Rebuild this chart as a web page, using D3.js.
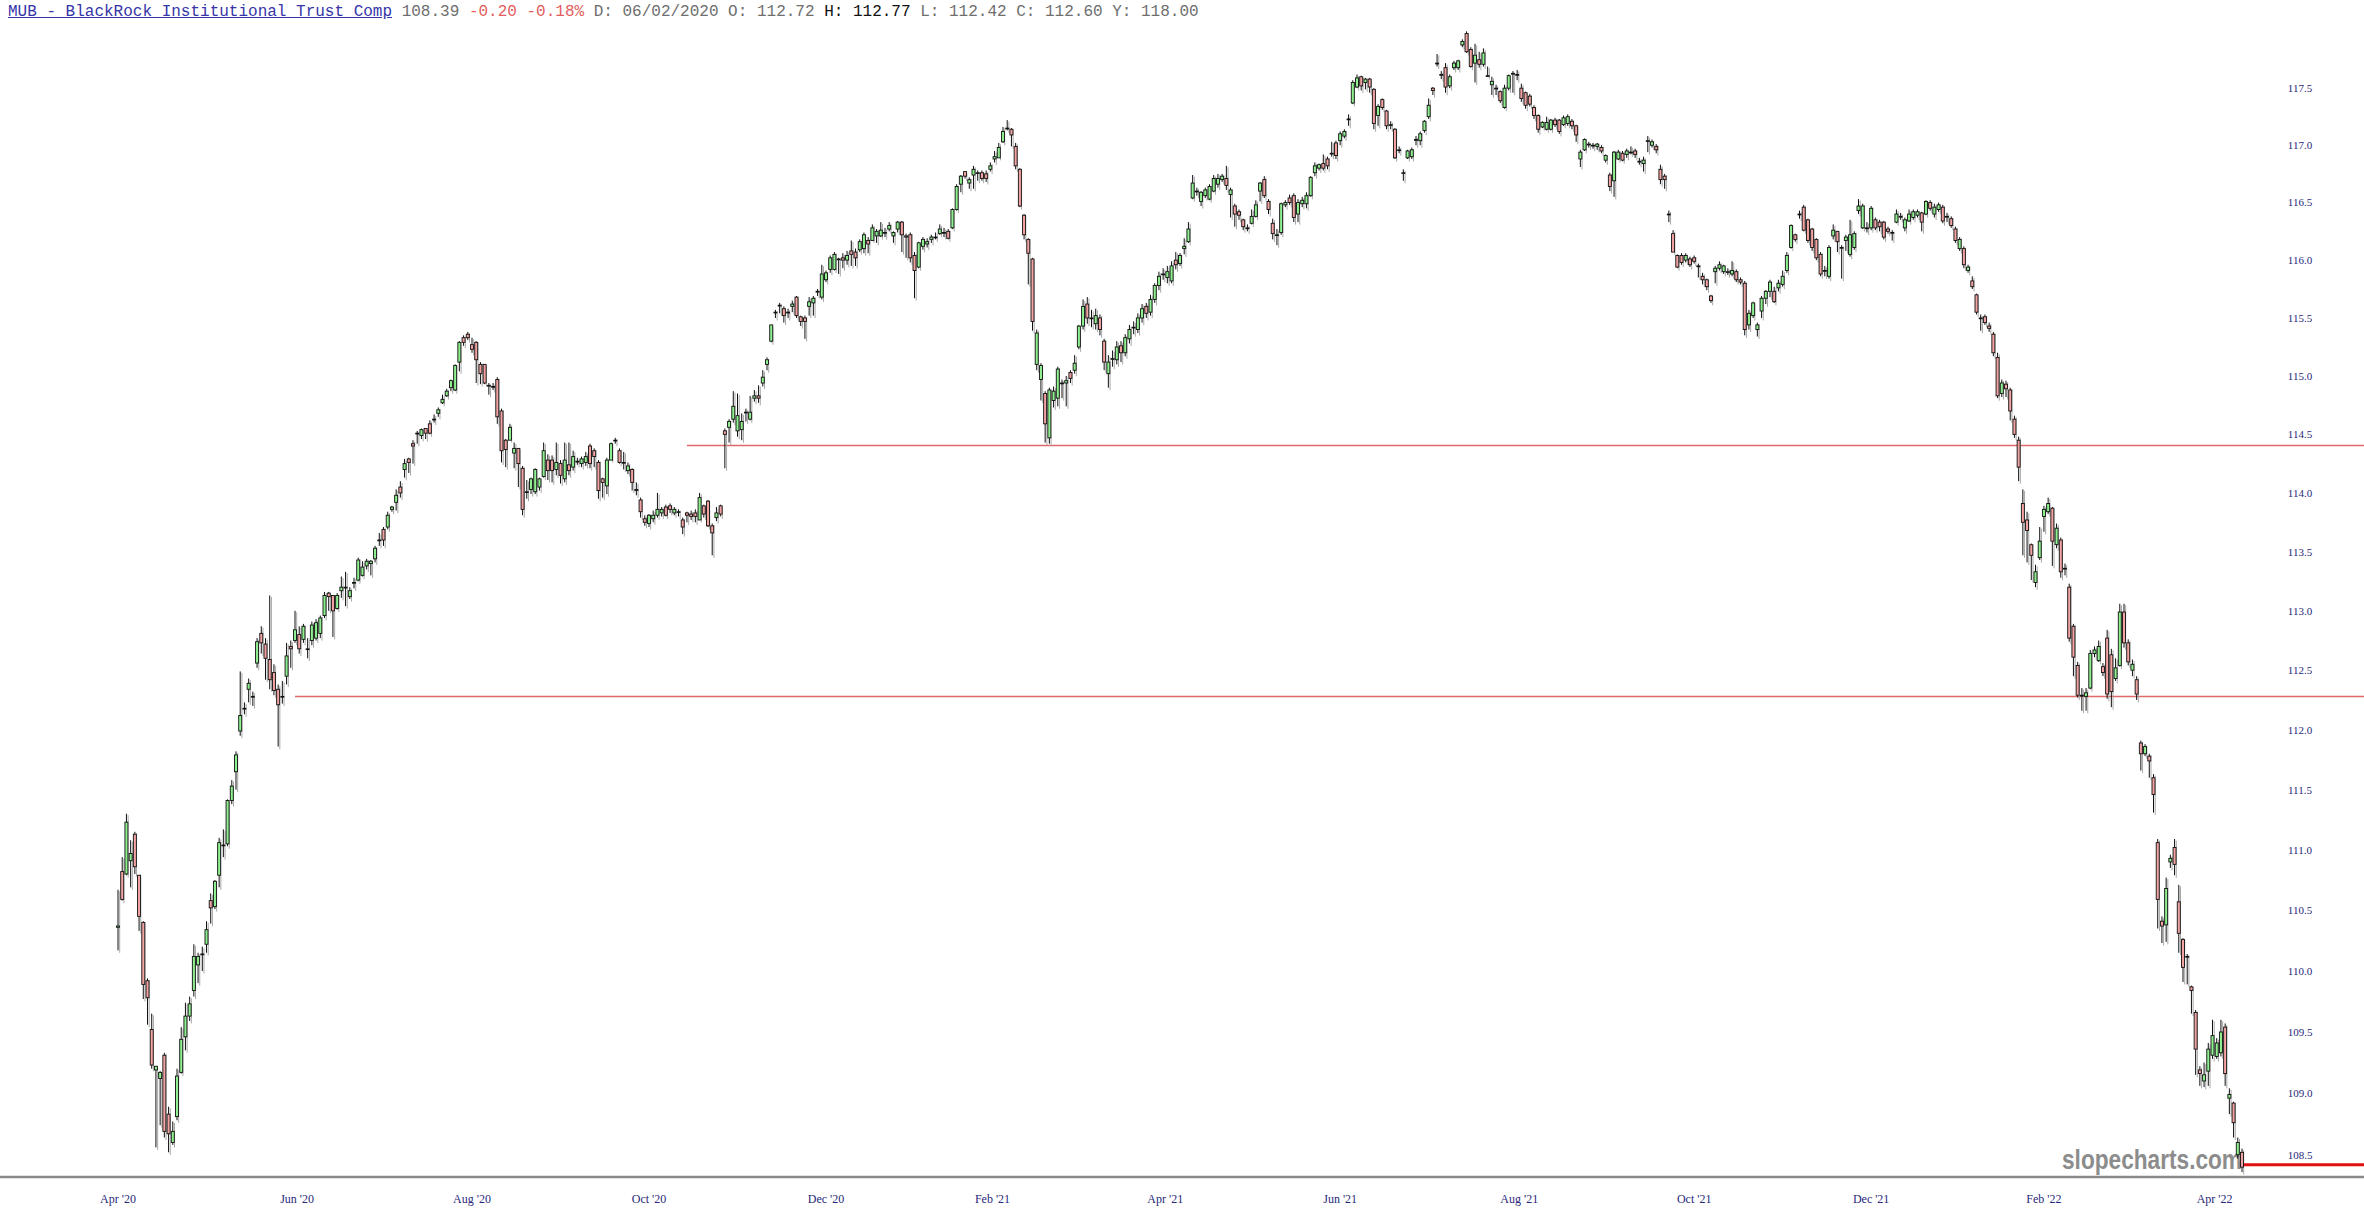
<!DOCTYPE html>
<html><head><meta charset="utf-8">
<script src="https://cdn.jsdelivr.net/npm/d3@7"></script>
<style>
html,body{margin:0;padding:0;background:#fff;overflow:hidden;}
#hdr{position:absolute;left:8px;top:1px;font-family:"Liberation Mono",monospace;font-size:16px;line-height:22px;white-space:pre;color:#6e6e6e;}
#hdr .t{color:#3535a8;text-decoration:underline;}
#hdr .r{color:#e35d5d;}
#hdr .k{color:#111;}
svg{position:absolute;left:0;top:0;}
</style>
</head><body>
<div id="hdr"></div>
<svg id="chart" width="2364" height="1218"></svg>
<script>
// ---- DATA: daily candles [open, high, low, close] ----
const ohlcPart1 = [
[110.36,110.67,110.17,110.37],[110.82,110.94,110.58,110.59],[110.80,111.30,110.79,111.23],[110.91,111.08,110.69,110.97],[111.13,111.15,110.80,110.86],
[110.79,110.79,110.33,110.45],[110.40,110.41,109.77,109.89],[109.92,109.94,109.56,109.78],[109.52,109.65,109.20,109.23],[109.19,109.22,108.56,109.22],
[109.12,109.18,108.74,109.17],[109.31,109.33,108.64,108.69],[108.83,108.89,108.52,108.67],[108.60,108.77,108.58,108.69],[108.81,109.20,108.78,109.14],
[109.17,109.54,109.16,109.44],[109.46,109.74,109.35,109.63],[109.63,109.79,109.59,109.73],[109.84,110.22,109.79,110.12],[110.05,110.15,109.90,110.12],
[110.14,110.20,110.00,110.14],[110.22,110.41,110.15,110.34],[110.58,110.64,110.39,110.52],[110.53,110.75,110.51,110.74],[110.79,111.10,110.69,111.06],
[111.04,111.17,110.94,111.04],[111.05,111.42,111.03,111.41],[111.41,111.58,111.38,111.53],[111.65,111.82,111.50,111.79],[111.99,112.49,111.95,112.12],
[112.18,112.23,112.13,112.18],[112.34,112.43,112.23,112.39],[112.28,112.32,112.20,112.28],[112.56,112.77,112.52,112.74],[112.81,112.87,112.64,112.73],
[112.72,112.77,112.42,112.60],[112.59,113.13,112.34,112.42],[112.48,112.55,112.29,112.33],[112.34,112.38,111.86,112.21],[112.28,112.41,112.22,112.28],
[112.45,112.73,112.38,112.62],[112.70,112.75,112.52,112.68],[112.75,113.00,112.73,112.84],[112.80,112.87,112.64,112.68],[112.76,112.89,112.73,112.87],
[112.68,112.77,112.60,112.68],[112.75,112.91,112.71,112.88],[112.77,112.93,112.75,112.90],[112.81,112.96,112.77,112.94],[112.96,113.16,112.94,113.13],
[113.15,113.16,113.00,113.12],[113.13,113.13,112.78,113.00],[113.02,113.15,113.01,113.13],[113.17,113.29,113.11,113.20],[113.20,113.33,113.04,113.20],
[113.12,113.20,113.10,113.17],[113.24,113.28,113.19,113.24],[113.26,113.45,113.25,113.43],[113.30,113.42,113.29,113.37],[113.38,113.44,113.35,113.42],
[113.40,113.43,113.30,113.42],[113.44,113.55,113.41,113.53],[113.60,113.66,113.55,113.60],[113.69,113.71,113.55,113.60],[113.71,113.84,113.69,113.81],
[113.86,113.89,113.84,113.88],[113.92,114.03,113.85,113.98],[114.05,114.10,113.96,114.00],[114.20,114.29,114.13,114.25],[114.29,114.30,114.17,114.26],
[114.42,114.45,114.25,114.40],[114.51,114.53,114.42,114.51],[114.49,114.55,114.46,114.54],[114.55,114.55,114.46,114.51],[114.59,114.62,114.50,114.51],
[114.63,114.67,114.60,114.63],[114.68,114.73,114.65,114.71],[114.77,114.84,114.76,114.80],[114.83,114.89,114.82,114.87],[114.90,114.97,114.87,114.96],
[114.88,115.10,114.87,115.09],[115.12,115.30,115.04,115.29],[115.33,115.35,115.26,115.29],[115.36,115.38,115.31,115.33],[115.27,115.33,115.20,115.23],
[115.29,115.30,114.94,115.14],[115.10,115.12,114.93,115.02],[115.10,115.10,114.93,114.94],[114.92,114.94,114.84,114.92],[114.91,114.94,114.88,114.91],
[114.97,114.99,114.59,114.65],[114.70,114.72,114.26,114.36],[114.45,114.46,114.22,114.37],[114.45,114.59,114.45,114.56],[114.34,114.43,114.21,114.38],
[114.38,114.38,114.05,114.25],[114.21,114.23,113.81,113.86],[114.01,114.11,113.95,114.01],[114.03,114.13,113.99,114.12],[114.01,114.21,113.99,114.20]
];
const ohlcPart2 = [
[114.05,114.13,114.02,114.12],[114.14,114.43,114.13,114.36],[114.28,114.33,114.11,114.19],[114.28,114.32,114.09,114.19],[114.20,114.43,114.15,114.26],
[114.25,114.28,114.08,114.15],[114.12,114.43,114.09,114.28],[114.24,114.43,114.15,114.19],[114.22,114.36,114.19,114.31],[114.27,114.30,114.24,114.27],
[114.25,114.31,114.22,114.29],[114.26,114.35,114.23,114.31],[114.40,114.42,114.21,114.25],[114.36,114.38,114.22,114.31],[114.26,114.28,113.95,114.02],
[114.12,114.13,113.96,114.09],[114.06,114.30,113.99,114.28],[114.28,114.43,114.28,114.42],[114.45,114.47,114.42,114.45],[114.36,114.38,114.25,114.26],
[114.26,114.35,114.20,114.26],[114.19,114.26,114.16,114.23],[114.20,114.21,114.02,114.09],[114.02,114.09,113.98,114.03],[113.94,113.96,113.79,113.84],
[113.78,113.81,113.72,113.75],[113.74,113.82,113.71,113.81],[113.78,113.85,113.75,113.81],[113.81,114.00,113.79,113.86],[113.83,113.88,113.80,113.86],
[113.88,113.90,113.80,113.81],[113.89,113.91,113.83,113.86],[113.83,113.88,113.81,113.86],[113.84,113.86,113.80,113.84],[113.77,113.79,113.65,113.71],
[113.83,113.84,113.75,113.81],[113.82,113.85,113.77,113.80],[113.83,113.86,113.75,113.80],[113.77,114.00,113.77,113.96],[113.89,113.90,113.79,113.82],
[113.93,113.94,113.71,113.72],[113.72,113.74,113.47,113.66],[113.79,113.88,113.76,113.83],[113.89,113.90,113.80,113.82],[114.53,114.55,114.21,114.50],
[114.56,114.63,114.43,114.61],[114.63,114.87,114.60,114.74],[114.53,114.85,114.48,114.66],[114.54,114.68,114.45,114.61],[114.69,114.72,114.61,114.69],
[114.63,114.83,114.62,114.69],[114.81,114.88,114.78,114.83],[114.83,114.92,114.77,114.81],[114.94,115.05,114.91,114.99],[115.10,115.16,115.05,115.14],
[115.30,115.44,115.29,115.44],[115.55,115.57,115.50,115.55],[115.61,115.63,115.54,115.61],[115.58,115.60,115.46,115.52],[115.55,115.58,115.50,115.55],
[115.60,115.65,115.55,115.62],[115.68,115.69,115.50,115.52],[115.51,115.52,115.43,115.47],[115.50,115.52,115.32,115.47],[115.60,115.68,115.52,115.64],
[115.63,115.69,115.52,115.67],[115.73,115.75,115.69,115.73],[115.68,115.96,115.66,115.88],[115.83,115.91,115.81,115.89],[115.92,116.04,115.89,116.02],
[115.92,116.07,115.91,116.05],[116.01,116.02,115.88,116.01],[116.02,116.06,115.93,116.00],[116.00,116.08,115.96,116.04],[116.08,116.17,115.95,116.05],
[116.07,116.10,115.95,116.02],[116.09,116.18,116.07,116.16],[116.10,116.24,116.06,116.22],[116.17,116.20,116.06,116.14],[116.17,116.31,116.17,116.28],
[116.21,116.27,116.15,116.25],[116.21,116.33,116.20,116.26],[116.24,116.28,116.20,116.24],[116.27,116.33,116.25,116.30],[116.21,116.25,116.15,116.24],
[116.27,116.34,116.24,116.33],[116.33,116.34,116.07,116.22],[116.21,116.23,116.02,116.20],[116.22,116.24,115.98,116.02],[116.04,116.07,115.67,115.91],
[115.94,116.16,115.93,116.15],[116.12,116.20,116.09,116.18],[116.14,116.19,116.11,116.16],[116.18,116.22,116.15,116.20],[116.20,116.24,116.18,116.20],
[116.23,116.31,116.22,116.27],[116.24,116.28,116.20,116.24],[116.25,116.27,116.18,116.19],[116.28,116.45,116.27,116.44],[116.44,116.66,116.43,116.64]
];
const ohlcPart3 = [
[116.66,116.74,116.59,116.73],[116.77,116.77,116.71,116.73],[116.67,116.72,116.62,116.70],[116.74,116.82,116.62,116.79],[116.76,116.78,116.69,116.76],
[116.76,116.78,116.69,116.71],[116.75,116.78,116.68,116.71],[116.79,116.85,116.77,116.82],[116.88,116.95,116.85,116.90],[116.89,117.02,116.89,116.98],
[117.03,117.16,117.02,117.12],[117.15,117.22,117.13,117.15],[117.14,117.15,116.99,117.09],[116.99,117.02,116.79,116.82],[116.79,116.80,116.46,116.47],
[116.39,116.40,116.18,116.22],[116.18,116.19,115.79,116.06],[116.01,116.02,115.39,115.47],[115.10,115.40,115.05,115.37],[114.97,115.11,114.79,115.09],
[114.85,114.87,114.43,114.59],[114.47,114.90,114.42,114.88],[114.79,114.91,114.73,114.87],[114.81,115.08,114.74,115.06],[114.94,114.97,114.81,114.94],
[114.94,115.00,114.74,114.96],[115.03,115.05,114.94,114.98],[115.05,115.18,115.02,115.11],[115.25,115.44,115.23,115.43],[115.43,115.66,115.40,115.60],
[115.62,115.68,115.45,115.50],[115.50,115.57,115.42,115.50],[115.45,115.58,115.40,115.52],[115.50,115.53,115.35,115.40],[115.30,115.32,115.05,115.12],
[115.02,115.18,114.90,115.12],[115.15,115.22,115.08,115.15],[115.14,115.30,115.10,115.25],[115.26,115.30,115.12,115.20],[115.20,115.36,115.17,115.33],
[115.32,115.44,115.28,115.40],[115.42,115.47,115.36,115.42],[115.40,115.54,115.37,115.50],[115.50,115.62,115.46,115.58],[115.60,115.63,115.50,115.54],
[115.55,115.70,115.52,115.66],[115.66,115.80,115.63,115.78],[115.78,115.90,115.74,115.86],[115.88,115.93,115.83,115.88],[115.85,115.95,115.80,115.90],
[115.82,115.99,115.80,115.95],[116.00,116.07,115.92,115.96],[115.97,116.06,115.95,116.04],[116.10,116.19,116.05,116.12],[116.16,116.33,116.15,116.27],
[116.54,116.74,116.53,116.67],[116.60,116.63,116.56,116.60],[116.51,116.60,116.47,116.59],[116.56,116.63,116.54,116.61],[116.53,116.66,116.52,116.64],
[116.60,116.74,116.59,116.71],[116.66,116.75,116.63,116.71],[116.70,116.75,116.68,116.73],[116.71,116.82,116.61,116.65],[116.57,116.63,116.37,116.61],
[116.47,116.49,116.29,116.40],[116.42,116.44,116.35,116.39],[116.35,116.36,116.26,116.29],[116.28,116.31,116.25,116.28],[116.32,116.44,116.31,116.38],
[116.38,116.52,116.37,116.48],[116.60,116.68,116.51,116.67],[116.70,116.73,116.54,116.56],[116.51,116.53,116.40,116.44],[116.32,116.36,116.18,116.23],
[116.22,116.27,116.13,116.22],[116.24,116.50,116.22,116.49],[116.48,116.52,116.46,116.50],[116.54,116.57,116.48,116.50],[116.56,116.58,116.33,116.37],
[116.40,116.53,116.33,116.50],[116.49,116.55,116.46,116.52],[116.49,116.59,116.45,116.56],[116.56,116.73,116.55,116.72],[116.76,116.85,116.73,116.82],
[116.80,116.84,116.78,116.83],[116.84,116.92,116.78,116.80],[116.88,116.90,116.79,116.82],[116.93,117.03,116.90,116.93],[117.02,117.04,116.88,116.91],
[117.04,117.12,117.00,117.10],[117.08,117.14,117.06,117.12],[117.23,117.27,117.17,117.23],[117.37,117.57,117.36,117.55],[117.51,117.62,117.50,117.59],
[117.60,117.61,117.48,117.52],[117.55,117.59,117.49,117.58],[117.58,117.59,117.46,117.51],[117.49,117.50,117.14,117.19],[117.26,117.36,117.17,117.34]
];
const ohlcPart4 = [
[117.40,117.41,117.31,117.33],[117.30,117.31,117.14,117.17],[117.18,117.21,117.14,117.18],[117.14,117.15,116.88,116.89],[116.96,116.99,116.93,116.96],
[116.76,116.79,116.69,116.76],[116.89,116.96,116.88,116.95],[116.90,116.98,116.88,116.96],[117.05,117.08,117.00,117.05],[117.04,117.12,117.00,117.10],
[117.13,117.22,117.11,117.21],[117.25,117.41,117.23,117.35],[117.50,117.51,117.44,117.48],[117.72,117.80,117.69,117.72],[117.62,117.65,117.58,117.62],
[117.68,117.72,117.46,117.51],[117.52,117.62,117.50,117.60],[117.68,117.74,117.66,117.72],[117.68,117.75,117.66,117.74],[117.88,117.93,117.86,117.91],
[117.98,118.00,117.81,117.82],[117.84,117.86,117.68,117.69],[117.72,117.89,117.55,117.79],[117.75,117.82,117.68,117.71],[117.71,117.85,117.69,117.81],
[117.61,117.69,117.60,117.61],[117.53,117.60,117.44,117.56],[117.50,117.53,117.44,117.50],[117.47,117.48,117.37,117.39],[117.33,117.53,117.32,117.50],
[117.50,117.62,117.48,117.61],[117.63,117.65,117.46,117.63],[117.62,117.66,117.57,117.62],[117.50,117.54,117.38,117.41],[117.46,117.47,117.32,117.35],
[117.43,117.45,117.34,117.36],[117.33,117.35,117.23,117.26],[117.26,117.27,117.11,117.14],[117.16,117.21,117.15,117.20],[117.14,117.25,117.13,117.20],
[117.14,117.23,117.13,117.22],[117.22,117.24,117.16,117.18],[117.22,117.23,117.10,117.12],[117.18,117.26,117.17,117.24],[117.19,117.27,117.17,117.25],
[117.21,117.23,117.14,117.17],[117.17,117.18,117.03,117.09],[116.88,116.96,116.81,116.94],[116.96,117.06,116.95,117.05],[117.01,117.03,116.98,117.01],
[117.00,117.02,116.97,117.00],[116.99,117.02,116.96,117.01],[116.98,117.00,116.93,116.95],[116.87,116.92,116.85,116.91],[116.74,116.76,116.60,116.64],
[116.69,116.95,116.55,116.94],[116.88,116.96,116.87,116.94],[116.93,116.95,116.86,116.87],[116.92,116.97,116.89,116.95],[116.94,116.99,116.92,116.94],
[116.95,116.97,116.89,116.92],[116.86,116.89,116.83,116.86],[116.84,116.90,116.77,116.87],[117.04,117.08,116.94,117.04],[117.00,117.05,116.98,117.03],
[116.99,117.01,116.93,116.96],[116.79,116.83,116.66,116.70],[116.73,116.75,116.62,116.70],[116.40,116.43,116.33,116.40],[116.23,116.26,116.07,116.07],
[116.04,116.05,115.93,115.94],[116.04,116.06,115.96,115.98],[116.00,116.06,115.98,116.04],[116.01,116.03,115.94,115.96],[116.02,116.04,115.97,115.99],
[115.95,115.97,115.85,115.95],[115.86,115.89,115.79,115.83],[115.83,115.84,115.74,115.77],[115.69,115.70,115.63,115.65],[115.90,115.95,115.80,115.93],
[115.93,115.99,115.91,115.96],[115.90,115.96,115.88,115.95],[115.90,115.93,115.87,115.90],[115.88,115.99,115.86,115.91],[115.90,115.92,115.81,115.83],
[115.83,115.85,115.79,115.81],[115.80,115.82,115.35,115.40],[115.44,115.57,115.40,115.54],[115.52,115.64,115.50,115.63],[115.40,115.46,115.34,115.44],
[115.56,115.69,115.50,115.67],[115.67,115.74,115.62,115.73],[115.73,115.83,115.68,115.81],[115.73,115.77,115.63,115.64],[115.76,115.83,115.73,115.80],
[115.79,115.91,115.77,115.86],[115.91,116.07,115.89,116.04],[116.11,116.31,116.10,116.30],[116.22,116.23,116.16,116.18],[116.40,116.43,116.36,116.40]
];
const ohlcPart5 = [
[116.46,116.48,116.25,116.26],[116.35,116.36,116.15,116.17],[116.27,116.28,116.08,116.11],[116.18,116.19,116.00,116.02],[116.05,116.07,115.86,115.88],
[115.91,115.95,115.86,115.91],[115.86,116.13,115.84,116.11],[116.21,116.31,116.18,116.26],[116.25,116.25,116.07,116.16],[116.11,116.13,115.84,116.11],
[116.17,116.22,116.08,116.20],[116.05,116.35,116.03,116.22],[116.11,116.25,116.09,116.23],[116.43,116.53,116.40,116.47],[116.28,116.49,116.27,116.47],
[116.28,116.33,116.24,116.28],[116.28,116.47,116.26,116.45],[116.35,116.37,116.26,116.28],[116.33,116.35,116.25,116.29],[116.33,116.34,116.18,116.20],
[116.27,116.29,116.23,116.25],[116.24,116.26,116.17,116.24],[116.33,116.44,116.32,116.40],[116.38,116.41,116.35,116.38],[116.28,116.37,116.25,116.35],
[116.34,116.44,116.33,116.40],[116.37,116.44,116.35,116.42],[116.39,116.44,116.37,116.42],[116.41,116.42,116.25,116.33],[116.40,116.52,116.39,116.51],
[116.50,116.52,116.43,116.45],[116.40,116.49,116.37,116.46],[116.44,116.50,116.42,116.48],[116.46,116.48,116.32,116.34],[116.38,116.41,116.33,116.38],
[116.36,116.38,116.28,116.30],[116.27,116.29,116.15,116.17],[116.10,116.20,116.08,116.18],[116.10,116.12,115.93,115.96],[115.91,115.96,115.89,115.94],
[115.82,115.86,115.75,115.77],[115.70,115.71,115.53,115.55],[115.50,115.53,115.39,115.50],[115.51,115.53,115.44,115.46],[115.43,115.46,115.38,115.41],
[115.36,115.38,115.17,115.20],[115.16,115.20,114.81,114.83],[114.85,114.97,114.82,114.94],[114.93,114.96,114.82,114.89],[114.88,114.90,114.62,114.70],
[114.63,114.66,114.47,114.50],[114.45,114.48,114.10,114.22],[113.91,114.03,113.47,113.75],[113.77,113.84,113.41,113.68],[113.56,113.57,113.26,113.47],
[113.24,113.39,113.20,113.33],[113.45,113.71,113.43,113.59],[113.80,113.89,113.67,113.86],[113.84,113.96,113.82,113.91],[113.87,113.88,113.38,113.59],
[113.56,113.74,113.53,113.70],[113.60,113.62,113.28,113.33],[113.36,113.40,113.30,113.36],[113.20,113.23,112.74,112.77],[112.87,112.89,112.45,112.61],
[112.54,112.57,112.27,112.29],[112.29,112.35,112.16,112.29],[112.28,112.35,112.16,112.31],[112.35,112.67,112.34,112.64],[112.64,112.70,112.61,112.67],
[112.58,112.75,112.57,112.70],[112.53,112.56,112.45,112.48],[112.77,112.84,112.26,112.30],[112.63,112.68,112.19,112.32],[112.43,112.60,112.41,112.52],
[112.54,113.06,112.53,112.99],[112.99,113.06,112.69,112.73],[112.73,112.76,112.54,112.57],[112.50,112.59,112.45,112.55],[112.42,112.45,112.25,112.30],
[111.89,111.91,111.66,111.80],[111.80,111.88,111.78,111.86],[111.78,111.80,111.60,111.74],[111.60,111.63,111.31,111.46],[111.06,111.09,110.35,110.59],
[110.41,110.45,110.23,110.37],[110.38,110.77,110.24,110.68],[110.90,110.96,110.85,110.93],[111.02,111.09,110.79,110.88],[110.57,110.71,110.15,110.31],
[110.26,110.27,109.91,110.03],[110.12,110.14,109.89,110.12],[109.87,109.88,109.65,109.84],[109.66,109.68,109.15,109.36],[109.19,109.22,109.06,109.16],
[109.10,109.25,109.05,109.15],[109.18,109.41,109.06,109.36],[109.31,109.60,109.28,109.47],[109.30,109.45,109.28,109.41],[109.33,109.60,109.30,109.50],
[109.54,109.57,109.06,109.16],[108.96,109.04,108.83,108.99],[108.92,108.93,108.64,108.76],[108.50,108.64,108.47,108.60],[108.52,108.55,108.36,108.40]
];

const priceTicks = [108.5,109.0,109.5,110.0,110.5,111.0,111.5,112.0,112.5,113.0,113.5,114.0,114.5,115.0,115.5,116.0,116.5,117.0,117.5];
const monthLabels = ["Apr '20","Jun '20","Aug '20","Oct '20","Dec '20","Feb '21","Apr '21","Jun '21","Aug '21","Oct '21","Dec '21","Feb '22","Apr '22"];
const monthLabelIdx = [0,42.5,84,126,168,207.5,248.5,290,332.5,374,416,457,497.5];
const levelStartIdx = [42, 135];
const levelPrice = [112.28, 114.41];
const lastLevel = 108.42;
const header = [
  ["t","MUB - BlackRock Institutional Trust Comp"],[""," 108.39 "],["r","-0.20 -0.18%"],
  [""," D: 06/02/2020 O: 112.72 "],["k","H: 112.77"],[""," L: 112.42 C: 112.60 Y: 118.00"]
];

// ---- BUILD ----
const candles = [].concat(ohlcPart1, ohlcPart2, ohlcPart3, ohlcPart4, ohlcPart5);
const N = candles.length;

d3.select("#hdr").selectAll("span").data(header).join("span")
  .attr("class", d => d[0]).text(d => d[1]);

const svg = d3.select("#chart");
const W = 2364;
const x = d3.scaleLinear().domain([0, N - 1]).range([118, 2242]);
const y = d3.scaleLog().domain([108.32, 118.1]).range([1177, 20]);

// horizontal level lines
svg.append("g").selectAll("line").data(levelPrice).join("line")
  .attr("x1", (d, i) => x(levelStartIdx[i])).attr("x2", W)
  .attr("y1", d => Math.round(y(d)) + 0.5).attr("y2", d => Math.round(y(d)) + 0.5)
  .attr("stroke", "#e06a6a").attr("stroke-width", 1.3);

// watermark
svg.append("text").attr("x", x(N - 1)).attr("y", y(lastLevel) + 4)
  .attr("text-anchor", "end").attr("font-family", "Liberation Sans, Arial, sans-serif")
  .attr("font-weight", "bold").attr("font-size", 27).attr("fill", "#8c8c8c")
  .attr("textLength", 180).attr("lengthAdjust", "spacingAndGlyphs")
  .text("slopecharts.com");

// bottom axis line
svg.append("line").attr("x1", 0).attr("x2", W).attr("y1", y.range()[0]).attr("y2", y.range()[0])
  .attr("stroke", "#8a8a8a").attr("stroke-width", 2.5);

// y labels
svg.append("g").selectAll("text").data(priceTicks).join("text")
  .attr("x", 2300).attr("y", d => y(d)).attr("dy", "0.35em")
  .attr("text-anchor", "middle").attr("font-family", "Liberation Serif, Times New Roman, serif")
  .attr("font-size", 11).attr("fill", "#28287a").text(d => d3.format(".1f")(d));

// x labels
svg.append("g").selectAll("text").data(monthLabels).join("text")
  .attr("x", (d, i) => x(monthLabelIdx[i])).attr("y", 1203)
  .attr("text-anchor", "middle").attr("font-family", "Liberation Serif, Times New Roman, serif")
  .attr("font-size", 12).attr("fill", "#28287a").text(d => d);

// candles
const bw = 3.0;
const g = svg.append("g");
const shadow = g.append("g");
shadow.selectAll("line").data(candles).join("line")
  .attr("x1", (d, i) => x(i) + 1.7).attr("x2", (d, i) => x(i) + 1.7)
  .attr("y1", d => y(d[1]) + 1.5).attr("y2", d => y(d[2]) + 2.5)
  .attr("stroke", "#a8a8a8").attr("stroke-width", 1);

g.append("g").selectAll("line").data(candles).join("line")
  .attr("x1", (d, i) => x(i)).attr("x2", (d, i) => x(i))
  .attr("y1", d => y(d[1])).attr("y2", d => y(d[2]))
  .attr("stroke", "#111").attr("stroke-width", 1);

g.append("g").selectAll("rect").data(candles).join("rect")
  .attr("x", (d, i) => x(i) - bw / 2)
  .attr("y", d => y(Math.max(d[0], d[3])))
  .attr("width", bw)
  .attr("height", d => Math.max(0.8, y(Math.min(d[0], d[3])) - y(Math.max(d[0], d[3]))))
  .attr("fill", d => d[3] >= d[0] ? "#8ff08f" : "#f4a3a3")
  .attr("stroke", "#111").attr("stroke-width", 0.9);

// last price line
svg.append("line").attr("x1", x(N - 1) + 2).attr("x2", W)
  .attr("y1", y(lastLevel)).attr("y2", y(lastLevel))
  .attr("stroke", "#e01010").attr("stroke-width", 3);
</script>
</body></html>
